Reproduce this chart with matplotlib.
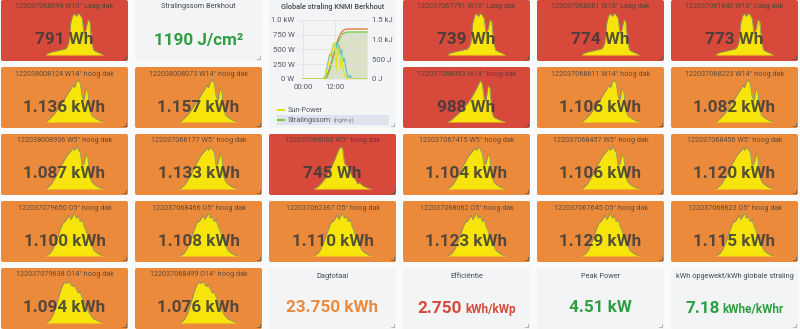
import numpy as np
import matplotlib.pyplot as plt
from matplotlib.patches import FancyBboxPatch, Rectangle

plt.rcParams['font.family'] = ['Roboto', 'DejaVu Sans']

W, H = 800, 329

# --- inverter panels ---------------------------------------------------------
inv_ids = ['122037068094', '122037067791', '122037068061', '122037061840',
           '122038008124', '122038008073', '122037068053', '122037068611', '122037068223',
           '122038008936', '122037066177', '122037068060', '122037067415', '122037068457', '122037068456',
           '122037079650', '122037068466', '122037062367', '122037068062', '122037067645', '122037068623',
           '122037079638', '122037068499']
inv_roof = ['W10° Laag dak'] * 4 + ['W14° hoog dak'] * 5 + ['W5° hoog dak'] * 6 + \
           ['O5° hoog dak'] * 6 + ['O14° hoog dak'] * 2
inv_energy_wh = [791, 739, 774, 773,
                 1136, 1157, 988, 1106, 1082,
                 1087, 1133, 745, 1104, 1106, 1120,
                 1100, 1108, 1110, 1123, 1129, 1115,
                 1094, 1076]
inv_profile = ['laag'] * 4 + ['w14', 'w14', 'w14b', 'w14', 'w14'] + \
              ['w5', 'w5', 'w5b', 'w5', 'w5', 'w5'] + ['o5'] * 6 + ['o14'] * 2
# grid cell (row, col) of each inverter panel
inv_cell = [(0, 0), (0, 3), (0, 4), (0, 5),
            (1, 0), (1, 1), (1, 3), (1, 4), (1, 5),
            (2, 0), (2, 1), (2, 2), (2, 3), (2, 4), (2, 5),
            (3, 0), (3, 1), (3, 2), (3, 3), (3, 4), (3, 5),
            (4, 0), (4, 1)]

# sparkline shapes (relative power over the day)
profiles = {
    'laag': [0.02, 0.04, 0.06, 0.07, 0.08, 0.09, 0.10, 0.11, 0.12, 0.13, 0.14, 0.18, 0.30, 0.75, 0.92, 0.96,
             0.90, 0.97, 0.93, 0.85, 0.50, 0.60, 0.82, 0.78, 0.30, 0.12, 0.09, 0.07, 0.05, 0.03, 0.01],
    'w14': [0.01, 0.04, 0.08, 0.12, 0.17, 0.22, 0.28, 0.35, 0.42, 0.48, 0.55, 0.62, 0.70, 0.76, 0.85, 0.80,
            0.93, 0.98, 0.90, 0.60, 0.50, 0.78, 0.72, 0.30, 0.16, 0.12, 0.09, 0.06, 0.04, 0.02, 0.01],
    'w14b': [0.01, 0.03, 0.06, 0.10, 0.14, 0.18, 0.22, 0.27, 0.32, 0.37, 0.42, 0.48, 0.55, 0.62, 0.70, 0.78,
             0.88, 0.96, 0.90, 0.55, 0.50, 0.85, 0.80, 0.25, 0.12, 0.09, 0.07, 0.05, 0.03, 0.02, 0.01],
    'w5': [0.01, 0.04, 0.08, 0.13, 0.20, 0.28, 0.36, 0.45, 0.55, 0.62, 0.70, 0.78, 0.83, 0.88, 0.95, 0.90,
           0.98, 0.92, 0.85, 0.55, 0.60, 0.80, 0.75, 0.30, 0.18, 0.12, 0.09, 0.06, 0.04, 0.02, 0.01],
    'w5b': [0.01, 0.03, 0.06, 0.10, 0.15, 0.20, 0.26, 0.33, 0.40, 0.50, 0.60, 0.70, 0.82, 0.92, 0.98, 0.95,
            0.60, 0.55, 0.50, 0.40, 0.30, 0.28, 0.20, 0.12, 0.15, 0.10, 0.07, 0.05, 0.03, 0.02, 0.01],
    'o5': [0.01, 0.03, 0.06, 0.12, 0.20, 0.30, 0.42, 0.55, 0.68, 0.78, 0.80, 0.86, 0.95, 0.85, 0.92, 1.00,
           0.88, 0.93, 0.80, 0.85, 0.70, 0.60, 0.45, 0.35, 0.25, 0.15, 0.10, 0.07, 0.04, 0.02, 0.01],
    'o14': [0.01, 0.03, 0.07, 0.13, 0.22, 0.35, 0.50, 0.65, 0.80, 0.90, 0.95, 0.92, 0.97, 0.90, 0.85, 0.88,
            0.78, 0.70, 0.72, 0.60, 0.50, 0.40, 0.30, 0.22, 0.15, 0.10, 0.08, 0.06, 0.04, 0.02, 0.01],
}

# --- KNMI graph (half-hour steps 00:00 .. 24:00) -----------------------------
knmi_hours = np.arange(0, 24.5, 0.5)
sun_power_w = [0] * 16 + [10, 50, 150, 250, 350, 450, 500, 580, 620, 150, 550, 450, 200, 400, 150, 80,
                          30, 10] + [0] * 15
knmi_power_w = [0] * 16 + [30, 80, 200, 300, 420, 380, 520, 600, 560, 610, 480, 580, 420, 500, 300, 350,
                           200, 80, 20, 60, 30, 10] + [0] * 11
stralingssom_j = [0] * 16 + [0, 10, 50, 120, 220, 330, 450, 580, 700, 810, 910, 990, 1060, 1110, 1150,
                             1170, 1185, 1190] + [1195] * 15
sun_cum_j = [0] * 15 + [0, 10, 40, 100, 180, 280, 400, 520, 650, 770, 880, 980, 1070, 1140, 1190, 1230,
                        1250, 1262, 1268] + [1270] * 15

# --- summary stats ------------------------------------------------------------
stat_titles = ['Dagtotaal', 'Efficiëntie', 'Peak Power', 'kWh opgewekt/kWh globale straling']
stat_values = ['23.750', '2.750', '4.51', '7.18']
stat_units = ['kWh', 'kWh/kWp', 'kW', 'kWhe/kWhr']

COL_X = [1, 135, 269, 403, 537, 671]
ROW_Y = [0, 67, 134, 201, 268]
PW, PH = 127, 61

ORANGE = '#ec8a3c'
RED = '#d6493b'
LIGHT = '#f3f4f6'
YELLOW = '#f7e40a'
GREEN = '#2f9e41'
TXT = '#3a3a3a'


def fx(x):
    return x / W


def fy(y):
    return 1 - y / H


fig = plt.figure(figsize=(W / 100, H / 100), dpi=100, facecolor='#f9fafb')
bg = fig.add_axes([0, 0, 1, 1])
bg.set_xlim(0, W)
bg.set_ylim(H, 0)
bg.axis('off')
renderer = fig.canvas.get_renderer()


def panel(x, y, w, h, color):
    bg.add_patch(FancyBboxPatch((x, y), w, h, boxstyle='round,pad=0,rounding_size=2',
                                facecolor=color, edgecolor='none'))
    c = '#555555' if color != LIGHT else '#999999'
    bg.plot([x + w - 5, x + w - 2.5, x + w - 2.5], [y + h - 2.5, y + h - 2.5, y + h - 5], color=c, lw=0.5)


# inverter panels
for i in range(len(inv_ids)):
    r, c = inv_cell[i]
    x0, y0 = COL_X[c], ROW_Y[r]
    e = inv_energy_wh[i]
    panel(x0, y0, PW, PH, RED if e < 1000 else ORANGE)

    vals = profiles[inv_profile[i]]
    sp = fig.add_axes([fx(x0 + 45), fy(y0 + 55), 57 / W, 43 / H])
    sp.patch.set_alpha(0)
    t = np.arange(len(vals))
    sp.fill_between(t, vals, color=YELLOW, lw=0)
    sp.plot(t, vals, color='#8c9160', lw=0.6)
    sp.axhline(0, color='#e9a21c', lw=0.8)
    sp.set_xlim(0, len(vals) - 1)
    sp.set_ylim(0, 1)
    sp.axis('off')

    fig.text(fx(x0 + PW / 2), fy(y0 + 7), f'{inv_ids[i]} {inv_roof[i]}', ha='center', va='center',
             fontsize=5.2, color='#4a4038', alpha=0.85)
    label = f'{e} Wh' if e < 1000 else f'{e / 1000:.3f} kWh'
    fig.text(fx(x0 + PW / 2), fy(y0 + 40), label, ha='center', va='center', fontsize=12.3,
             fontweight='bold', color=TXT, alpha=0.85)

# Stralingssom stat
panel(COL_X[1], ROW_Y[0], PW, PH, LIGHT)
fig.text(fx(COL_X[1] + PW / 2), fy(7), 'Stralingssom Berkhout', ha='center', va='center',
         fontsize=5.3, color='#464c54')
fig.text(fx(COL_X[1] + PW / 2), fy(40), '1190 J/cm²', ha='center', va='center', fontsize=12.3,
         fontweight='bold', color=GREEN)

# summary stats
for j in range(4):
    x0 = COL_X[2 + j]
    y0 = ROW_Y[4]
    panel(x0, y0, PW, PH, LIGHT)
    fig.text(fx(x0 + PW / 2), fy(y0 + 9), stat_titles[j], ha='center', va='center',
             fontsize=5.3, color='#464c54')
    col = [ORANGE, RED, GREEN, GREEN][j]
    if j in (1, 3):
        # big value + small unit, centred together on a shared baseline
        v = fig.text(0, fy(y0 + 45), stat_values[j], ha='left', va='baseline',
                     fontsize=12.3, fontweight='bold', color=col)
        u = fig.text(0, fy(y0 + 45), stat_units[j], ha='left', va='baseline',
                     fontsize=8.5, fontweight='bold', color=col)
        wv = v.get_window_extent(renderer).width
        wu = u.get_window_extent(renderer).width
        start = x0 + PW / 2 - (wv + 3 + wu) / 2
        v.set_x(fx(start))
        u.set_x(fx(start + wv + 3))
    else:
        fig.text(fx(x0 + PW / 2), fy(y0 + 40), f'{stat_values[j]} {stat_units[j]}', ha='center',
                 va='center', fontsize=12.3, fontweight='bold', color=col)

# KNMI graph panel
gx, gy = COL_X[2], ROW_Y[0]
panel(gx, gy, PW, ROW_Y[1] + PH - ROW_Y[0], LIGHT)
fig.text(fx(gx + PW / 2), fy(7), 'Globale straling KNMI Berkhout', ha='center', va='center',
         fontsize=5.3, color='#464c54', fontweight='medium')

ax = fig.add_axes([fx(298), fy(79), 71 / W, 59 / H])
ax.patch.set_alpha(0)
ax2 = ax.twinx()
ax2.fill_between(knmi_hours, stralingssom_j, color='#c9d2a2', alpha=0.55, lw=0)
ax2.plot(knmi_hours, sun_cum_j, color='#e8793a', lw=1.0)
ax2.plot(knmi_hours, stralingssom_j, color='#7ac74f', lw=1.0)
ax.plot(knmi_hours, knmi_power_w, color='#5cc6c8', lw=0.9, zorder=3)
ax.plot(knmi_hours, sun_power_w, color='#e5e01f', lw=0.9, zorder=3)
ax.set_zorder(ax2.get_zorder() + 1)

ax.set_xlim(-1.8, 24.7)
ax.set_ylim(0, 1000)
ax2.set_ylim(0, 1500)
ax.set_yticks([0, 250, 500, 750, 1000])
ax.set_yticklabels(['0 W', '250 W', '500 W', '750 W', '1.0 kW'])
ax2.set_yticks([0, 500, 1000, 1500])
ax2.set_yticklabels(['0 J', '500 J', '1.0 kJ', '1.5 kJ'])
ax.set_xticks([0, 12])
ax.set_xticklabels(['00:00', '12:00'])
ax.grid(True, color='#dcdfe3', lw=0.5)
for a in (ax, ax2):
    for s in a.spines.values():
        s.set_visible(False)
    a.tick_params(length=0, labelsize=5.6, labelcolor='#555a60', pad=2.5)
ax.tick_params(axis='x', pad=3.5)

# legend
bg.add_patch(Rectangle((277, 115), 112, 10, facecolor='#dfe4ec', edgecolor='none'))
bg.plot([278, 284], [110, 110], color='#e5e01f', lw=1.5)
bg.plot([278, 284], [120, 120], color='#7ac74f', lw=1.5)
fig.text(fx(288), fy(110), 'Sun-Power', ha='left', va='center', fontsize=5.3, color='#555a60')
s1 = fig.text(fx(288), fy(120), 'Stralingssom', ha='left', va='center', fontsize=5.3, color='#555a60')
w1 = s1.get_window_extent(renderer).width
fig.text(fx(288 + w1 + 3), fy(120), '(right-y)', ha='left', va='center', fontsize=4.3, color='#777c82')

fig.savefig('out.png', dpi=100, facecolor=fig.get_facecolor())
